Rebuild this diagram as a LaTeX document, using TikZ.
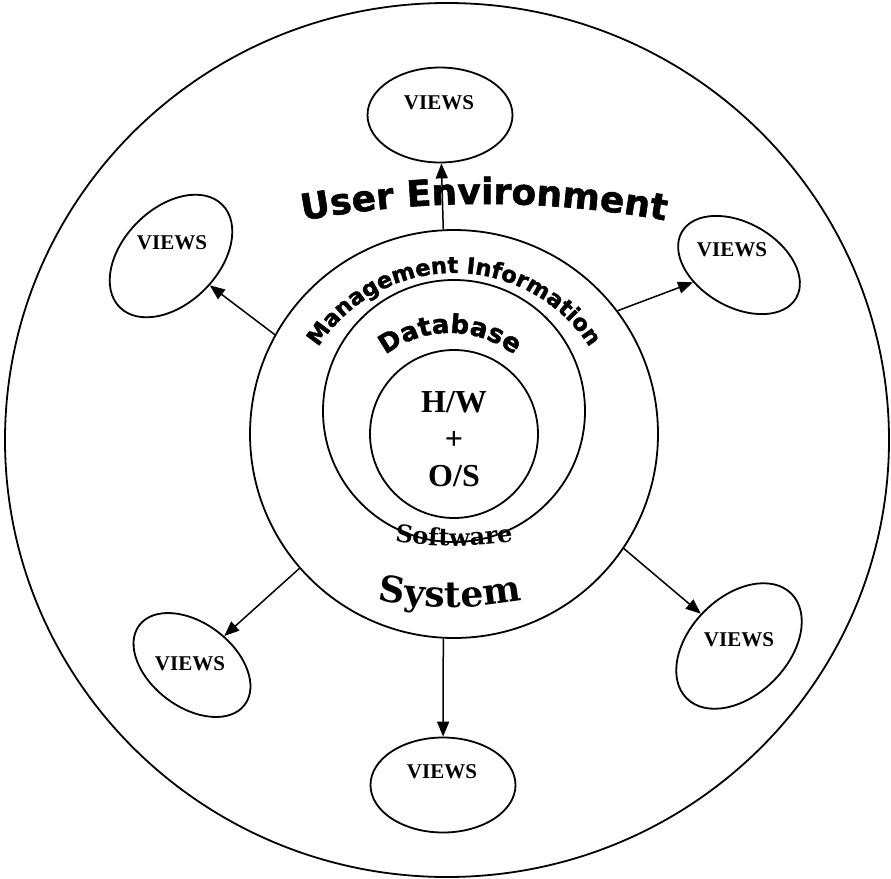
\documentclass[tikz,border=0pt]{standalone}
\usepackage{fontspec}
\setmainfont{Liberation Serif}
\newfontfamily\heavyfont{DejaVu Sans}[BoldFeatures={FakeBold=1.5}]
\newfontfamily\swashfont{DejaVu Serif}
\usetikzlibrary{shapes.geometric,arrows.meta,decorations.text}
\begin{document}
\begin{tikzpicture}[x=1pt,y=1pt,line width=1.8pt,
  views/.style={draw,ellipse,inner sep=0pt,minimum width=145pt,minimum height=95pt},
  smallviews/.style={views,minimum width=132pt,minimum height=84pt},
  viewtext/.style={font=\bfseries\fontsize{21}{24}\selectfont},
  ring/.style={draw,circle,inner sep=0pt},
  >={Triangle[length=15pt,width=12pt]}]
\useasboundingbox (0,0) rectangle (891,-878);
\draw (447,-440) ellipse [x radius=442pt, y radius=437pt];
\node[ring,minimum size=408pt] (mis) at (454,-434) {};
\node[ring,minimum size=262pt] (db) at (454,-411) {};
\node[ring,minimum size=168pt] (hwos) at (454,-434) {};
\node[align=center,font=\bfseries\fontsize{32}{37}\selectfont] (hwtext) at (454,-439) {H/W\\+\\O/S};

\node[views] (v1) at (440,-115) {};
\node[views,rotate=45] (v2) at (171,-256) {};
\node[smallviews,rotate=-30] (v3) at (739,-265) {};
\node[smallviews,rotate=-37] (v4) at (192,-665) {};
\node[views,minimum width=148pt,minimum height=98pt,rotate=45] (v5) at (739,-646) {};
\node[views] (v6) at (443,-785) {};

\node[viewtext] (t1) at (439,-103) {VIEWS};
\node[viewtext] (t2) at (172,-243) {VIEWS};
\node[viewtext] (t3) at (732,-250) {VIEWS};
\node[viewtext] (t4) at (190,-664) {VIEWS};
\node[viewtext] (t5) at (739,-640) {VIEWS};
\node[viewtext] (t6) at (442,-772) {VIEWS};

\foreach \a/\v in {93/v1,151/v2,37/v3,221/v4,-34/v5,267/v6}
    \draw[->,line width=1.5pt] (mis.\a) -- (\v);

\path[decorate,decoration={text along path,text align=center,
  text={|\heavyfont\bfseries\fontsize{36}{36}\selectfont|User Environment}}]
  (484,-1204) ++(104:1000pt) arc[start angle=104,end angle=76,radius=1000pt];
\path[decorate,decoration={text along path,text align=center,
  text={|\heavyfont\bfseries\fontsize{22.5}{22.5}\selectfont|Management Information}}]
  (454,-434) ++(152:161pt) arc[start angle=152,end angle=28,radius=161pt];
\path[decorate,decoration={text along path,text align=center,
  text={|\heavyfont\bfseries\fontsize{26}{26}\selectfont|Database}}]
  (450,-438) ++(145:105pt) arc[start angle=145,end angle=35,radius=105pt];
\path[decorate,decoration={text along path,text align=center,
  text={|\swashfont\bfseries\fontsize{24}{24}\selectfont|Software}}]
  (454,-146) ++(250:400pt) arc[start angle=250,end angle=290,radius=400pt];
\path[decorate,decoration={text along path,text align=center,
  text={|\swashfont\bfseries\fontsize{36}{36}\selectfont|System}}]
  (450,-207) ++(250:400pt) arc[start angle=250,end angle=290,radius=400pt];
\end{tikzpicture}
\end{document}
